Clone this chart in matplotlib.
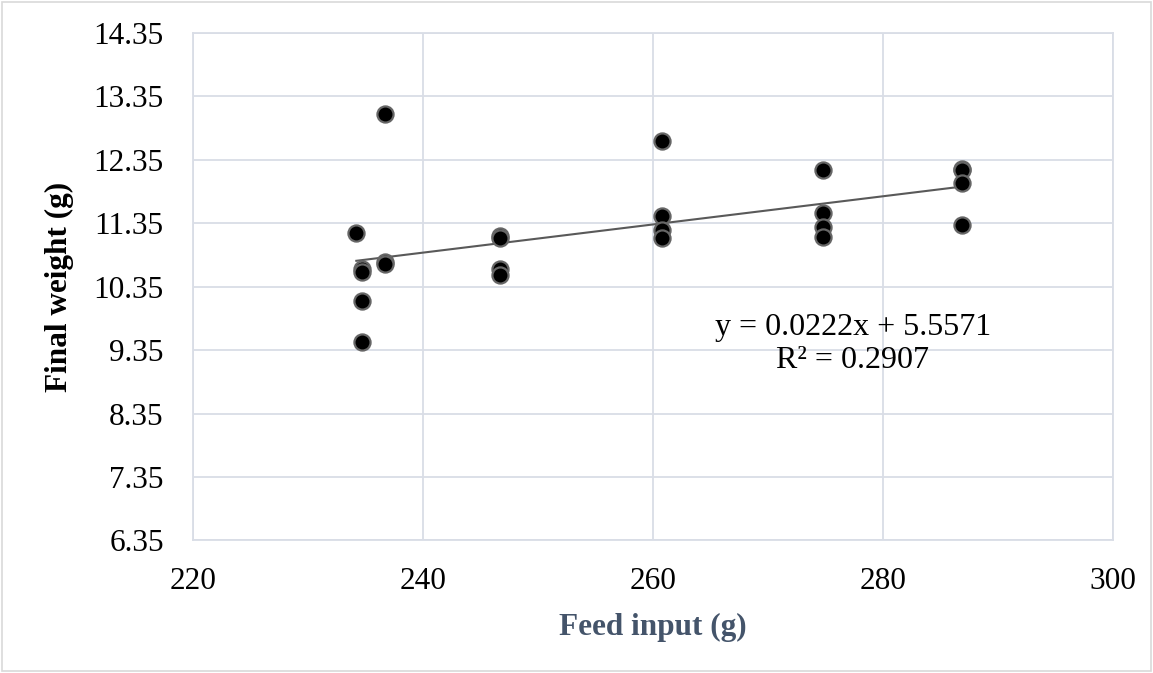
import numpy as np
import matplotlib.pyplot as plt
from matplotlib.patches import Rectangle

plt.rcParams['font.family'] = ['Liberation Serif', 'DejaVu Serif']

feed_input = [234.2, 234.7, 234.7, 234.7, 234.7, 236.7, 236.7, 236.7,
              246.7, 246.7, 246.7, 246.7,
              260.75, 260.75, 260.75, 260.75,
              274.8, 274.8, 274.8, 274.8,
              286.9, 286.9, 286.9, 286.9]
final_weight = [11.20, 10.62, 10.58, 10.13, 9.48, 13.07, 10.74, 10.71,
                11.15, 11.11, 10.62, 10.53,
                12.65, 11.47, 11.24, 11.11,
                12.19, 11.51, 11.29, 11.13,
                12.21, 12.18, 11.98, 11.32]

slope = 0.0222
intercept = 5.5571
r_squared = 0.2907

x_ticks = [220, 240, 260, 280, 300]
y_ticks = [6.35, 7.35, 8.35, 9.35, 10.35, 11.35, 12.35, 13.35, 14.35]

grid_color = '#D9DDE6'
fs = 22.5

fig = plt.figure(figsize=(11.53, 6.73), dpi=100)
ax = fig.add_axes([0.1674, 0.1969, 0.9653 - 0.1674, 0.9514 - 0.1969])

ax.scatter(feed_input, final_weight, s=135, facecolor='black',
           edgecolor='#666666', linewidth=1.6, zorder=3)

# linear trendline
x_fit = np.array([min(feed_input), max(feed_input)])
ax.plot(x_fit, slope * x_fit + intercept, color='#595959', linewidth=1.5, zorder=2)

ax.set_xlim(220, 300)
ax.set_ylim(6.35, 14.35)
ax.set_xticks(x_ticks)
ax.set_yticks(y_ticks)
ax.set_yticklabels([f'{v:.2f}' for v in y_ticks])
ax.tick_params(axis='both', length=0, labelsize=fs, colors='black')
ax.tick_params(axis='x', pad=19)
ax.tick_params(axis='y', pad=21)
ax.grid(True, color=grid_color, linewidth=1.3)
ax.set_axisbelow(True)
for s in ax.spines.values():
    s.set_color(grid_color)
    s.set_linewidth(1.3)

ax.set_xlabel('Feed input (g)', fontsize=fs, fontweight='bold',
              color='#44546A', labelpad=12)
ax.set_ylabel('Final weight (g)', fontsize=fs, fontweight='bold',
              color='black', labelpad=14)

fig.text(853 / 1153, 1 - 327 / 673, f'y = {slope}x + {intercept}', fontsize=fs + 0.5,
         ha='center', va='center')
fig.text(853 / 1153, 1 - 361 / 673, f'R² = {r_squared}', fontsize=fs + 0.5,
         ha='center', va='center')

fig.patches.append(Rectangle((2 / 1153, 2 / 673), 1 - 4 / 1153, 1 - 4 / 673,
                             transform=fig.transFigure, fill=False,
                             edgecolor='#D9D9D9', linewidth=1.2))

fig.savefig('out.png', dpi=100)
